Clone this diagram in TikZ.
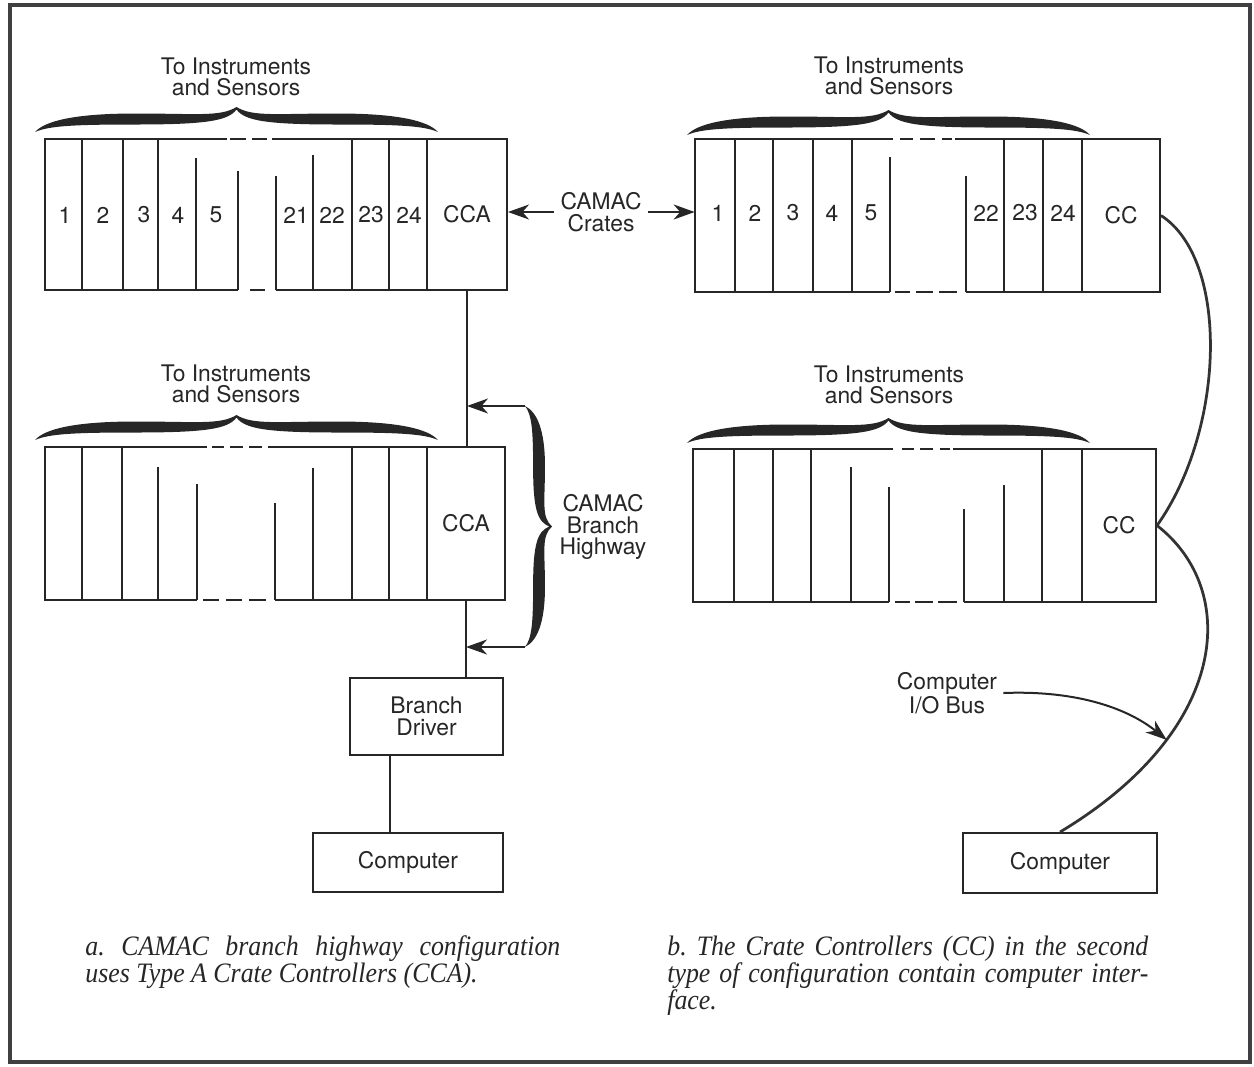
\documentclass[tikz,border=0pt]{standalone}
\usepackage{fontspec}
\setmainfont{TeX Gyre Heros}
\newfontfamily\capfont{Liberation Serif}[FakeStretch=0.92]
\usetikzlibrary{arrows.meta}
\newcommand\drawbrace[3]{\fill[black!85,shift={#1},x={#2},y={#3}] (0,0) .. controls (0.05,0.45) and (0.2,0.74) .. (0.5,0.74) .. controls (0.8,0.74) and (0.92,0.6) .. (1,1) .. controls (1.08,0.6) and (1.2,0.74) .. (1.5,0.74) .. controls (1.8,0.74) and (1.95,0.45) .. (2,0) .. controls (1.93,0.25) and (1.8,0.3) .. (1.5,0.3) .. controls (1.15,0.3) and (1.04,0.45) .. (1,0.9) .. controls (0.96,0.45) and (0.85,0.3) .. (0.5,0.3) .. controls (0.2,0.3) and (0.07,0.25) .. (0,0) -- cycle;}
\begin{document}
\begin{tikzpicture}[x=0.2mm,y=-0.2mm,
  ln/.style={line width=0.4mm, draw=black!85},
  buscurve/.style={line width=0.55mm, draw=black!80},
  lbl/.style={font=\fontsize{13}{12.2}\selectfont, text=black!85, inner sep=0},
  cell/.style={ln, rectangle, inner sep=0, font=\fontsize{13}{12.2}\selectfont, text=black!85},
  crateframe/.style={rectangle, inner sep=0},
  box/.style={ln, rectangle, inner sep=0, align=center, font=\fontsize{13}{12.2}\selectfont, text=black!85},
  arr/.style={ln, -{Stealth[length=4.2mm,width=3mm,inset=1.3mm]}},
  captxt/.style={anchor=base west, inner sep=0, text=black!85}]
\useasboundingbox (0,0) rectangle (1254,1066);
\draw[line width=0.8mm, black!75] (10,5) rectangle (1250,1062);

% ---------- crate frames (invisible) and controller cells ----------
\node[crateframe, minimum width=92.4mm, minimum height=30.2mm] (crateTL) at (276,214.5) {};
\node[crateframe, minimum width=93mm, minimum height=30.6mm] (crateTR) at (927.5,215.5) {};
\node[crateframe, minimum width=92mm, minimum height=30.6mm] (crateML) at (275,523.5) {};
\node[crateframe, minimum width=92.6mm, minimum height=30.6mm] (crateMR) at (924.5,525.5) {};

\node[cell, draw, minimum width=16mm, minimum height=30.2mm] (cca1) at (467,214.5) {CCA};
\node[cell, draw, minimum width=15.6mm, minimum height=30.6mm] (ccTR) at (1121,215.5) {CC};
\node[cell, draw, minimum width=15.6mm, minimum height=30.6mm] (cca2) at (466,523.5) {CCA};
\node[cell, draw, minimum width=14.8mm, minimum height=30.6mm] (ccMR) at (1119,525.5) {CC};

% ---------- top-left crate ----------
\draw[ln] (227,139) -- (45,139) -- (45,290) -- (238,290);
\draw[ln] (272,139) -- (427,139) (276,290) -- (427,290);
\draw[ln] (230,139) -- (246,139) (252,139) -- (267,139) (250,290) -- (265,290);
\foreach \x in {82,123,158,352,389} \draw[ln] (\x,139) -- (\x,290);
\foreach \x/\y in {196/158,238/171,276/176,313/155} \draw[ln] (\x,\y) -- (\x,290);
\foreach \t/\x in {1/65,2/103,3/144,4/178,5/216,21/296,22/332,23/371,24/409}
  \node[lbl] (tl\t) at (\x,215) {\t};

% ---------- top-right crate ----------
\draw[ln] (893,139) -- (695,139) -- (695,292) -- (890,292);
\draw[ln] (955,139) -- (1082,139) (966,292) -- (1082,292);
\draw[ln] (900,139) -- (913,139) (920,139) -- (935,139) (942,139) -- (952,139);
\draw[ln] (895,292) -- (910,292) (916,292) -- (933,292) (939,292) -- (957,292);
\foreach \x in {735,773,813,852,1004,1043} \draw[ln] (\x,139) -- (\x,292);
\foreach \x/\y in {890/157,966/176} \draw[ln] (\x,\y) -- (\x,292);
\foreach \t/\x in {1/718,2/755,3/793,4/832,5/871,22/986,23/1025,24/1063}
  \node[lbl] (tr\t) at (\x,213) {\t};

% ---------- middle-left crate ----------
\draw[ln] (207,447) -- (45,447) -- (45,600) -- (197,600);
\draw[ln] (268,447) -- (427,447) (275,600) -- (427,600);
\draw[ln] (212,447) -- (224,447) (230,447) -- (243,447) (249,447) -- (262,447);
\draw[ln] (203,600) -- (219,600) (226,600) -- (242,600) (249,600) -- (266,600);
\foreach \x in {82,122,352,389} \draw[ln] (\x,447) -- (\x,600);
\foreach \x/\y in {158/467,197/484,275/503,313/468} \draw[ln] (\x,\y) -- (\x,600);

% ---------- middle-right crate ----------
\draw[ln] (893,449) -- (693,449) -- (693,602) -- (889,602);
\draw[ln] (953,449) -- (1082,449) (964,602) -- (1082,602);
\draw[ln] (902,449) -- (914,449) (920,449) -- (933,449) (940,449) -- (950,449);
\draw[ln] (895,602) -- (910,602) (915,602) -- (933,602) (938,602) -- (957,602);
\foreach \x in {734,773,811,1042} \draw[ln] (\x,449) -- (\x,602);
\foreach \x/\y in {851/467,889/487,964/509,1004/485} \draw[ln] (\x,\y) -- (\x,602);

% ---------- braces and their labels ----------
\drawbrace{(35,132)}{(40.3mm,0mm)}{(0mm,5mm)}
\drawbrace{(687,135)}{(40.3mm,0mm)}{(0mm,5mm)}
\drawbrace{(35,440)}{(40.3mm,0mm)}{(0mm,5mm)}
\drawbrace{(687,443)}{(40.3mm,0mm)}{(0mm,5mm)}
\drawbrace{(525,406)}{(0mm,-24.1mm)}{(5.4mm,0mm)}
\node[lbl, align=center] (instTL) at (236,77) {To Instruments\\and Sensors};
\node[lbl, align=center] (instTR) at (889,76) {To Instruments\\and Sensors};
\node[lbl, align=center] (instML) at (236,384) {To Instruments\\and Sensors};
\node[lbl, align=center] (instMR) at (889,385) {To Instruments\\and Sensors};

% ---------- left column: branch highway ----------
\node[box, minimum width=30.6mm, minimum height=15.4mm] (bd) at (426.5,716.5) {Branch\\Driver};
\node[box, minimum width=38mm, minimum height=11.8mm] (compL) at (408,862.5) {Computer};
\coordinate (lnx) at (390,0);
\draw[ln] (cca1.south) -- (cca1.south |- cca2.north);
\draw[ln] (cca2.south) -- (cca2.south |- bd.north);
\draw[ln] (bd.south -| lnx) -- (compL.north -| lnx);
\coordinate (hb1) at (525,406);
\coordinate (hb2) at (525,647);
\draw[arr] (hb1) -- (hb1 -| cca1.south);
\draw[arr] (hb2) -- (hb2 -| cca2.south);
\node[lbl, align=center] (hw) at (603,527) {CAMAC\\Branch\\Highway};

% ---------- CAMAC crates label ----------
\node[lbl, align=center, inner sep=1.2mm] (crates) at (601,212) {CAMAC\\Crates};
\draw[arr] (crates.west) -- (crates.west -| cca1.east);
\draw[arr] (crates.east) -- (crates.east -| crateTR.west);

% ---------- right column: I/O bus ----------
\node[box, minimum width=38.8mm, minimum height=12mm] (compR) at (1060,863) {Computer};
\draw[buscurve] (ccTR.east) .. controls (1230,260) and (1225,430) .. (ccMR.east);
\draw[buscurve] (ccMR.east) .. controls (1240,590) and (1230,730) .. (compR.north) coordinate[pos=0.72] (busPt);
\node[lbl, align=center, inner sep=1.2mm] (iobus) at (947,693) {Computer\\I/O Bus};
\draw[arr] (iobus.east) .. controls (1080,690) and (1130,710) .. (busPt);

% ---------- captions ----------
\node[captxt] (capA) at (85,955) {\parbox[t]{95mm}{\frenchspacing\capfont\itshape\fontsize{16}{15.4}\selectfont a. CAMAC branch highway configuration\linebreak uses Type A Crate Controllers (CCA).}};
\node[captxt] (capB) at (667,955) {\parbox[t]{96.2mm}{\frenchspacing\capfont\itshape\fontsize{16}{15.4}\selectfont b. The Crate Controllers (CC) in the second\linebreak type of configuration contain computer inter-\linebreak face.}};
\end{tikzpicture}
\end{document}
